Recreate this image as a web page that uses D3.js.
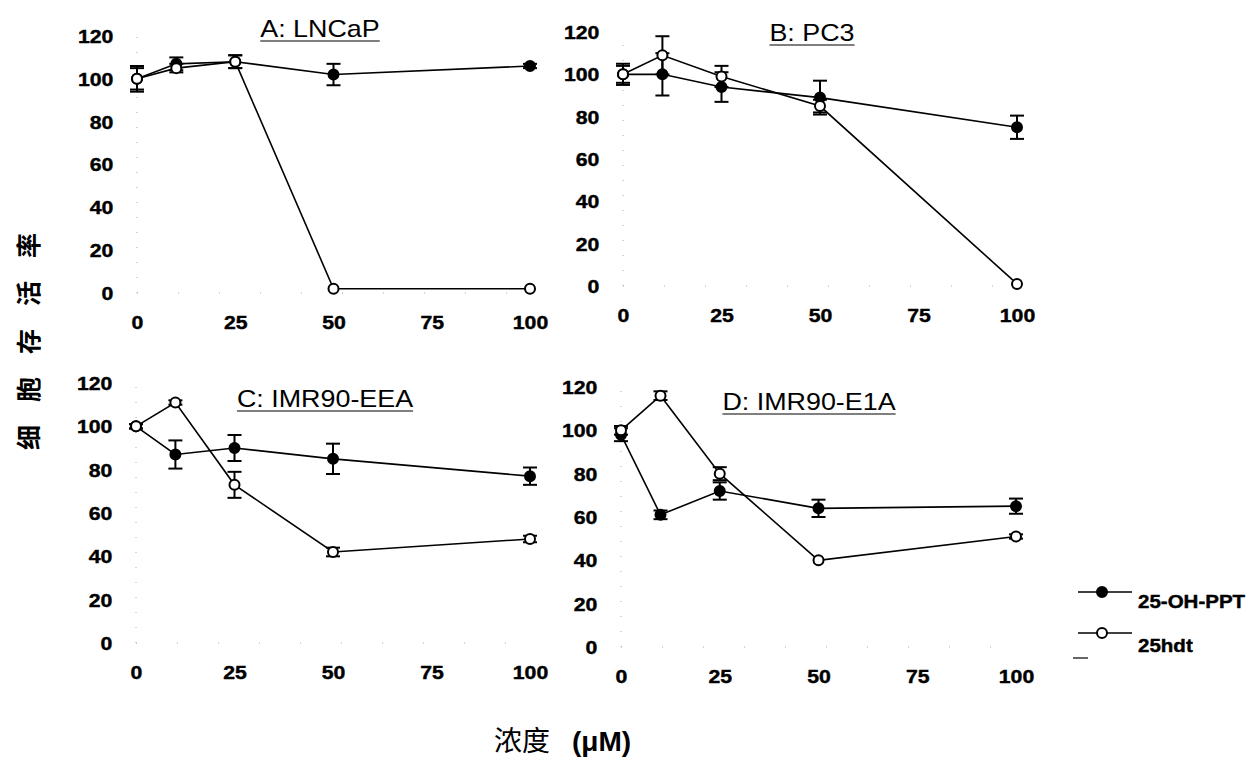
<!DOCTYPE html>
<html>
<head>
<meta charset="utf-8">
<script src="https://cdn.jsdelivr.net/npm/d3@7"></script>
<style>
  body { margin: 0; background: #fff; }
  svg { display: block; }
</style>
</head>
<body>
<svg id="chart" width="1254" height="762"></svg>
<script>
// concentrations (uM)
const conc = [0, 10, 25, 50, 100];
const xTicks = [0, 25, 50, 75, 100];
const yTicks = [0, 20, 40, 60, 80, 100, 120];

const seriesNames = ["25-OH-PPT", "25hdt"];

// A: LNCaP
const lncapPPT = [100, 107, 108, 102, 106];
const lncapPPTErr = [6, 3, 3, 5, 1];
const lncapHDT = [100, 105, 108, 2, 2];
const lncapHDTErr = [5, 2, 3, 0, 0];

// B: PC3
const pc3PPT = [100, 100, 94, 89, 75];
const pc3PPTErr = [4, 10, 7, 8, 5.5];
const pc3HDT = [100, 109, 99, 85, 1];
const pc3HDTErr = [5, 9, 5, 3, 0];

// C: IMR90-EEA
const eeaPPT = [100, 87, 90, 85, 77];
const eeaPPTErr = [1, 6.5, 6, 7, 4];
const eeaHDT = [100, 111, 73, 42, 48];
const eeaHDTErr = [1, 1, 6, 2, 1.5];

// D: IMR90-E1A
const e1aPPT = [98, 61, 72, 64, 65];
const e1aPPTErr = [3, 2, 4, 4, 3.5];
const e1aHDT = [100, 116, 80, 40, 51];
const e1aHDTErr = [2, 2, 3, 0, 1];

const panels = [
  { title: "A: LNCaP", ppt: lncapPPT, pptErr: lncapPPTErr, hdt: lncapHDT, hdtErr: lncapHDTErr,
    xr: [137, 530], yr: [293, 36], tx: 320, ty: 37 },
  { title: "B: PC3", ppt: pc3PPT, pptErr: pc3PPTErr, hdt: pc3HDT, hdtErr: pc3HDTErr,
    xr: [623, 1017], yr: [286, 32], tx: 812, ty: 41 },
  { title: "C: IMR90-EEA", ppt: eeaPPT, pptErr: eeaPPTErr, hdt: eeaHDT, hdtErr: eeaHDTErr,
    xr: [136, 530], yr: [643, 383], tx: 325, ty: 407 },
  { title: "D: IMR90-E1A", ppt: e1aPPT, pptErr: e1aPPTErr, hdt: e1aHDT, hdtErr: e1aHDTErr,
    xr: [621, 1016], yr: [647, 387], tx: 809, ty: 410 }
];

const svg = d3.select("#chart");
const r = 5;
const cap = 7;

panels.forEach(p => {
  const x = d3.scaleLinear().domain([0, 100]).range(p.xr);
  const y = d3.scaleLinear().domain([0, 120]).range(p.yr);
  const g = svg.append("g");

  // faint dotted axis lines like the scan
  g.append("line")
    .attr("x1", x(0)).attr("x2", x(0))
    .attr("y1", y(0)).attr("y2", y(120))
    .attr("stroke", "#aaa").attr("stroke-width", 1)
    .attr("stroke-dasharray", "1,14");
  g.append("line")
    .attr("x1", x(0)).attr("x2", x(100))
    .attr("y1", y(0)).attr("y2", y(0))
    .attr("stroke", "#aaa").attr("stroke-width", 1)
    .attr("stroke-dasharray", "1,40");

  const yAxis = g.append("g")
    .attr("transform", `translate(${x(0)},0)`)
    .call(d3.axisLeft(y).tickValues(yTicks).tickSize(0).tickPadding(24));
  const xAxis = g.append("g")
    .attr("transform", `translate(0,${y(0)})`)
    .call(d3.axisBottom(x).tickValues(xTicks).tickSize(0).tickPadding(23));
  [yAxis, xAxis].forEach(a => {
    a.select(".domain").remove();
    a.selectAll("text")
      .style("font-family", "Liberation Sans, Arial, sans-serif")
      .style("font-weight", "bold")
      .style("font-size", "18px")
      .attr("fill", "#000")
      .attr("stroke", "#000")
      .attr("stroke-width", 0.4);
  });
  yAxis.selectAll("text").attr("dy", "0.36em")
    .attr("transform", "scale(1.18,1)").attr("x", -20);
  xAxis.selectAll("text").attr("transform", "scale(1.18,1)");

  // title
  const tg = g.append("g").attr("transform", `translate(${p.tx},${p.ty}) scale(1.12,1)`);
  const tt = tg.append("text")
    .attr("text-anchor", "middle")
    .style("font-family", "Liberation Sans, Arial, sans-serif")
    .style("font-size", "24px")
    .text(p.title);
  const bb = tt.node().getBBox();
  tg.append("line")
    .attr("x1", bb.x).attr("x2", bb.x + bb.width)
    .attr("y1", 4).attr("y2", 4)
    .attr("stroke", "#000").attr("stroke-width", 1.2);

  const line = d3.line().x((d, i) => x(conc[i])).y(d => y(d));

  const series = [
    { vals: p.ppt, err: p.pptErr, fill: "#000" },
    { vals: p.hdt, err: p.hdtErr, fill: "#fff" }
  ];

  series.forEach(s => {
    g.append("path")
      .attr("d", line(s.vals))
      .attr("fill", "none")
      .attr("stroke", "#000")
      .attr("stroke-width", 1.6);
  });

  series.forEach(s => {
    const eg = g.append("g").attr("stroke", "#000").attr("stroke-width", 2);
    s.vals.forEach((v, i) => {
      const e = s.err[i];
      if (e <= 0) return;
      const cx = x(conc[i]);
      eg.append("line").attr("x1", cx).attr("x2", cx).attr("y1", y(v - e)).attr("y2", y(v + e));
      eg.append("line").attr("x1", cx - cap).attr("x2", cx + cap).attr("y1", y(v - e)).attr("y2", y(v - e));
      eg.append("line").attr("x1", cx - cap).attr("x2", cx + cap).attr("y1", y(v + e)).attr("y2", y(v + e));
    });
  });

  series.forEach(s => {
    g.append("g").selectAll("circle")
      .data(s.vals)
      .join("circle")
      .attr("cx", (d, i) => x(conc[i]))
      .attr("cy", d => y(d))
      .attr("r", r)
      .attr("fill", s.fill)
      .attr("stroke", "#000")
      .attr("stroke-width", 2);
  });
});

// legend
const legend = svg.append("g").attr("transform", "translate(1078,592)");
seriesNames.forEach((name, i) => {
  const lg = legend.append("g").attr("transform", `translate(0,${i * 41})`);
  lg.append("line").attr("x1", 0).attr("x2", 54).attr("y1", 0).attr("y2", 0)
    .attr("stroke", "#000").attr("stroke-width", 1.6);
  lg.append("circle").attr("cx", 24).attr("cy", 0).attr("r", r)
    .attr("fill", i === 0 ? "#000" : "#fff").attr("stroke", "#000").attr("stroke-width", 2);
  lg.append("text")
    .attr("transform", `translate(60,${i === 0 ? 16 : 19}) scale(1.14,1)`)
    .style("font-family", "Liberation Sans, Arial, sans-serif")
    .style("font-weight", "bold")
    .style("font-size", "18px")
    .attr("stroke", "#000").attr("stroke-width", 0.4)
    .text(name);
});
svg.append("line").attr("x1", 1073).attr("x2", 1088).attr("y1", 658).attr("y2", 658)
  .attr("stroke", "#333").attr("stroke-width", 1.5);

// axis titles
svg.append("text")
  .attr("transform", "translate(38,330) rotate(-90)")
  .attr("text-anchor", "middle")
  .style("font-family", "Noto Sans CJK SC, sans-serif")
  .style("font-weight", "bold")
  .style("font-size", "25px")
  .style("letter-spacing", "23px")
  .text("细胞存活率");

const xl = svg.append("text")
  .attr("x", 494).attr("y", 751)
  .style("font-size", "28px");
xl.append("tspan").style("font-family", "Noto Sans CJK SC, sans-serif").text("浓度");
xl.append("tspan").attr("dx", 22).style("font-family", "Liberation Sans, Arial, sans-serif")
  .style("font-weight", "bold").text("(μM)");
</script>
</body>
</html>
